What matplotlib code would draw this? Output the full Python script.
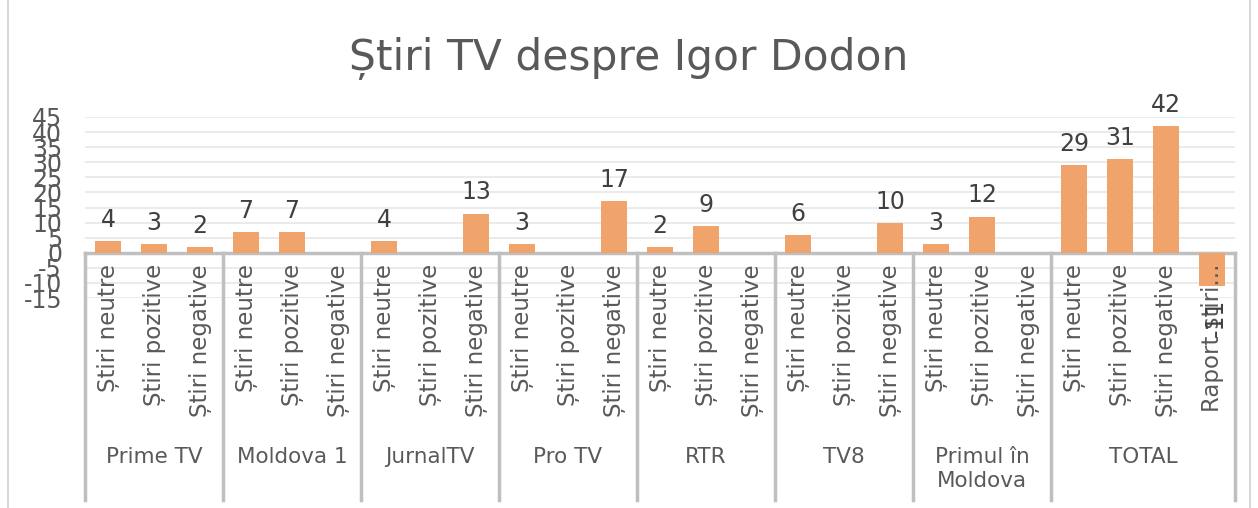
import matplotlib
matplotlib.use("Agg")
import matplotlib.pyplot as plt
import numpy as np
from matplotlib.patches import Rectangle
from matplotlib.lines import Line2D

plt.rcParams['font.family'] = ['DejaVu Sans']
plt.rcParams['axes.unicode_minus'] = False

groups = ["Prime TV", "Moldova 1", "JurnalTV", "Pro TV", "RTR", "TV8", "Primul în\nMoldova", "TOTAL"]
sub_labels = ["Știri neutre", "Știri pozitive", "Știri negative"]
raport_label = "Raport știri..."
values = {
    "Prime TV": [4, 3, 2],
    "Moldova 1": [7, 7, None],
    "JurnalTV": [4, None, 13],
    "Pro TV": [3, None, 17],
    "RTR": [2, 9, None],
    "TV8": [6, None, 10],
    "Primul în\nMoldova": [3, 12, None],
    "TOTAL": [29, 31, 42, -11],
}
yticks = list(range(-15, 50, 5))

W, H = 1258, 508
fig = plt.figure(figsize=(W / 100, H / 100), dpi=100)
fig.patch.set_facecolor("white")

# chart border
fig.add_artist(Rectangle((8 / W, -0.01), (1250 - 8) / W, 1.02, transform=fig.transFigure,
                         fill=False, edgecolor="#D0D0D0", lw=1.2))

left_px, right_px, top_px, bot_px = 85, 1235, 117, 298
ax = fig.add_axes([left_px / W, (H - bot_px) / H, (right_px - left_px) / W, (bot_px - top_px) / H])
ax.set_ylim(-15, 45)

# build slots
xs, vals, labs = [], [], []
bounds = [0]
pos = 0
for g in groups:
    v = values[g]
    names = sub_labels + ([raport_label] if len(v) == 4 else [])
    for name, val in zip(names, v):
        xs.append(pos)
        vals.append(val)
        labs.append(name)
        pos += 1
    bounds.append(pos)
ax.set_xlim(-0.5, pos - 0.5)

ax.set_yticks(yticks)
ax.yaxis.grid(True, color="#E8E8E8", lw=1.2)
ax.set_axisbelow(True)
ax.tick_params(axis="y", length=0, pad=16.5, labelsize=17, labelcolor="#595959")
ax.set_xticks([])
for s in ax.spines.values():
    s.set_visible(False)

bar_vals = [np.nan if v is None else v for v in vals]
ax.bar(xs, bar_vals, width=0.55, color="#F0A36B", zorder=3)

def ypx_to_axes(ypx):
    return (bot_px - ypx) / (bot_px - top_px)

for x, v, lab in zip(xs, vals, labs):
    if v is not None:
        if v >= 0:
            ax.text(x, v + 3.0, str(v), ha="center", va="bottom", fontsize=17, color="#404040", zorder=4)
        else:
            ax.text(x + 0.08, ypx_to_axes(318), str(v), transform=ax.get_xaxis_transform(), rotation=90,
                    ha="center", va="center", fontsize=17, color="#404040", zorder=4)
    ax.text(x, ypx_to_axes(264), lab, transform=ax.get_xaxis_transform(), rotation=90,
            ha="center", va="top", fontsize=16.5, color="#595959", clip_on=False)

trans = ax.get_xaxis_transform()
y0 = ypx_to_axes(253)
y1 = ypx_to_axes(500)
ax.add_line(Line2D([-0.5, pos - 0.5], [y0, y0], transform=trans, color="#BFBFBF", lw=2.5, clip_on=False, zorder=2))
for b in bounds:
    ax.add_line(Line2D([b - 0.5, b - 0.5], [y0, y1], transform=trans, color="#BFBFBF", lw=2.5, clip_on=False, zorder=2))

for i, g in enumerate(groups):
    cx = (bounds[i] + bounds[i + 1] - 1) / 2
    ax.text(cx, ypx_to_axes(447), g, transform=trans, ha="center", va="top", fontsize=15.5,
            color="#595959", linespacing=1.25, clip_on=False)

fig.text(0.5, (H - 58) / H, "Știri TV despre Igor Dodon", ha="center", va="center", fontsize=30.5, color="#595959")

fig.savefig("out.png", dpi=100, facecolor="white")
